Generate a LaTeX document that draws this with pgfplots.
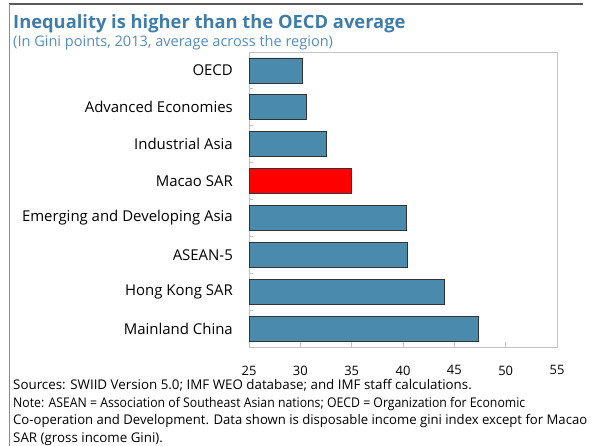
\documentclass[border=0pt]{standalone}
\usepackage{fontspec}
\setmainfont{Open Sans}
\usepackage{pgfplots}
\pgfplotsset{compat=1.18}
\definecolor{barblue}{RGB}{74,139,173}
\definecolor{titleblue}{RGB}{62,125,170}
\definecolor{subblue}{RGB}{85,140,190}
\definecolor{framegray}{RGB}{195,195,195}
\begin{document}
\begin{tikzpicture}
\useasboundingbox (0bp,0bp) rectangle (592bp,446bp);
\draw[black!65, line width=1.3bp] (9bp,442bp) -- (583bp,442bp);
\draw[black!45, line width=0.8bp] (9bp,442bp) -- (9bp,0bp);
\node[anchor=base west, text=titleblue, font=\bfseries\fontsize{18.4}{22}\selectfont, inner sep=0] at (13bp,417.5bp) {Inequality is higher than the OECD average};
\node[anchor=base west, text=subblue, font=\fontsize{14.6}{17}\selectfont, inner sep=0] at (13bp,399.5bp) {(In Gini points, 2013, average across the region)};
\begin{axis}[at={(249bp,99bp)}, anchor=south west, scale only axis, width=308bp, height=295bp,
  xmin=25, xmax=55, ymin=-0.5, ymax=7.5,
  xtick={25,30,35,40,45,50,55},
  ytick={0,...,7},
  yticklabels={Mainland China, Hong Kong SAR, ASEAN-5, Emerging and Developing Asia, Macao SAR, Industrial Asia, Advanced Economies, OECD},
  ytick style={draw=none},
  extra y ticks={0.5,1.5,2.5,3.5,4.5,5.5,6.5},
  extra y tick labels={},
  extra y tick style={ytick style={draw=framegray, line width=0.8bp}, major tick length=4bp},
  tick pos=left,
  axis line style={framegray, line width=0.8bp},
  tick align=inside, major tick length=5bp,
  xtick style={draw=framegray, line width=0.8bp},
  /pgf/number format/assume math mode=true,
  xticklabel style={font=\fontsize{13}{15}\selectfont, inner sep=0pt, yshift=-18.5bp},
  yticklabel style={font=\fontsize{15}{17}\selectfont, inner sep=0pt, xshift=-16bp},
  clip=true,
]
\addplot[xbar, bar width=25bp, fill=barblue, draw=black!80, line width=0.8bp]
  coordinates {(47.3,0) (44.05,1) (40.4,2) (40.3,3) (32.5,5) (30.55,6) (30.2,7)};
\addplot[xbar, bar width=25bp, fill=red, draw=black!80, line width=0.8bp]
  coordinates {(35.0,4)};
\end{axis}
\node[anchor=base west, inner sep=0, font=\fontsize{13.4}{16}\selectfont] at (13bp,56.5bp) {Sources: SWIID Version 5.0; IMF WEO database; and IMF staff calculations.};
\node[anchor=base west, inner sep=0, font=\fontsize{13.4}{16}\selectfont] at (13bp,38.7bp) {\resizebox{512bp}{\height}{Note: ASEAN = Association of Southeast Asian nations; OECD = Organization for Economic}};
\node[anchor=base west, inner sep=0, font=\fontsize{13.4}{16}\selectfont] at (13bp,21bp) {\resizebox{574bp}{\height}{Co-operation and Development. Data shown is disposable income gini index except for Macao}};
\node[anchor=base west, inner sep=0, font=\fontsize{13.4}{16}\selectfont] at (13bp,3.3bp) {SAR (gross income Gini).};
\end{tikzpicture}
\end{document}
